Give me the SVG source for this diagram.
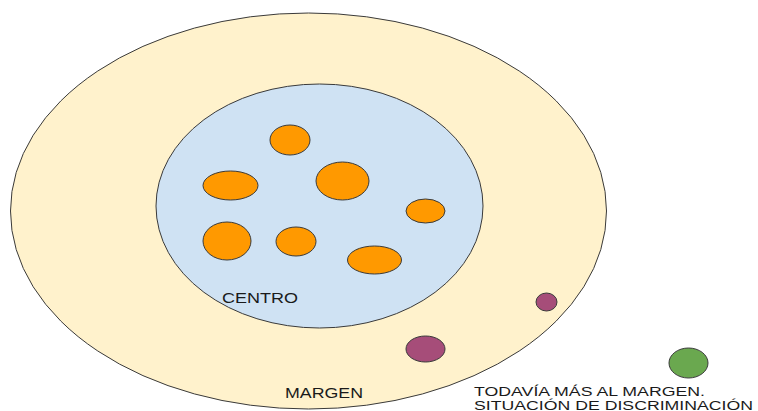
<svg xmlns="http://www.w3.org/2000/svg" width="758" height="411" viewBox="0 0 758 411">
<style>
.s{stroke:#3a3a3a;stroke-width:1}
.o{fill:#ff9900}
.p{fill:#a64d79}
.t{font-family:"Liberation Sans",Arial,sans-serif;font-size:14px;fill:#1a1a1a}
.t2{font-family:"Liberation Sans",Arial,sans-serif;font-size:12.5px;fill:#1a1a1a}
</style>
<rect width="758" height="411" fill="#ffffff"/>
<g id="margen">
<ellipse class="s" cx="308.5" cy="211" rx="298" ry="198" fill="#fff2cc"/>
<text class="t" x="285" y="398" textLength="78" lengthAdjust="spacingAndGlyphs">MARGEN</text>
</g>
<g id="centro">
<ellipse class="s" cx="319.5" cy="206" rx="163.5" ry="122" fill="#cfe2f3"/>
<text class="t" x="222" y="303" textLength="76" lengthAdjust="spacingAndGlyphs">CENTRO</text>
</g>
<g id="centro-items">
<ellipse class="s o" cx="290" cy="140" rx="20" ry="15"/>
<ellipse class="s o" cx="230.5" cy="185.5" rx="27.5" ry="14.5"/>
<ellipse class="s o" cx="342.5" cy="181" rx="26.5" ry="19"/>
<ellipse class="s o" cx="425.5" cy="211" rx="19.5" ry="12"/>
<ellipse class="s o" cx="227" cy="241" rx="24" ry="19"/>
<ellipse class="s o" cx="296" cy="241.5" rx="20" ry="14.5"/>
<ellipse class="s o" cx="374.5" cy="260" rx="27" ry="14"/>
</g>
<g id="margen-items">
<ellipse class="s p" cx="546.5" cy="302" rx="10.5" ry="9"/>
<ellipse class="s p" cx="425.5" cy="349" rx="19.5" ry="13"/>
</g>
<g id="discriminacion">
<ellipse class="s" cx="688.5" cy="363" rx="19.5" ry="15" fill="#6aa84f"/>
<text class="t2" x="474" y="395.5" textLength="231" lengthAdjust="spacingAndGlyphs">TODAVÍA MÁS AL MARGEN.</text>
<text class="t2" x="474" y="409.5" textLength="279" lengthAdjust="spacingAndGlyphs">SITUACIÓN DE DISCRIMINACIÓN</text>
</g>
<g id="connectors"></g>
</svg>
